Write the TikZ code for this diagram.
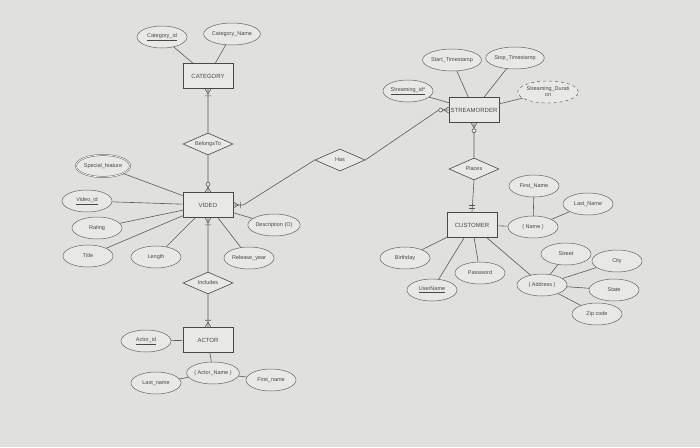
\documentclass[tikz,border=0pt]{standalone}
\usepackage{fontspec}
\setmainfont{Liberation Sans}
\usetikzlibrary{shapes.geometric,positioning}
\definecolor{paper}{RGB}{224,224,222}
\definecolor{sheet}{RGB}{232,232,231}
\definecolor{ink}{RGB}{72,72,72}
\tikzset{
    x=1pt, y=1pt,
    entity/.style={rectangle, draw=ink, fill=sheet, line width=.6pt,
        minimum width=50pt, minimum height=25pt, inner sep=1.5pt,
        font=\fontsize{6}{7}\selectfont, text=ink},
    attr/.style={ellipse, draw=ink!85, fill=sheet, line width=.5pt,
        minimum width=50pt, minimum height=22pt, inner sep=0pt,
        font=\fontsize{5.5}{6}\selectfont, text=ink, align=center},
    rel/.style={diamond, aspect=2.3, draw=ink, fill=sheet, line width=.6pt,
        minimum width=50pt, minimum height=22pt, inner sep=0pt,
        font=\fontsize{5.5}{6}\selectfont, text=ink},
    link/.style={draw=ink!90, line width=.6pt},
    pics/onemany/.style={code={\draw[link] (0,3) -- (5,0) -- (0,-3) (7,3) -- (7,-3);}},
    pics/zeromany/.style={code={\draw[link] (0,3) -- (5,0) -- (0,-3);
        \draw[link, fill=sheet] (8,0) circle (2);}},
    pics/oneone/.style={code={\draw[link] (4,3) -- (4,-3) (7,3) -- (7,-3);}}
}

\begin{document}
\begin{tikzpicture}
    \fill[paper] (0,-447) rectangle (700,0);
    \useasboundingbox (0,-447) rectangle (700,0);

    % video side
    \node[entity] (category) at (208,-76) {CATEGORY};
    \node[attr] (cat-id) at (162,-37) {\underline{Category\_id}};
    \node[attr] (cat-name) at (232,-34) {Category\_Name};
    \node[rel] (belongs) at (208,-144) {BelongsTo};
    \node[entity] (video) at (208,-205) {VIDEO};
    \node[attr, double, double distance=.7pt] (special) at (103,-166) {Special\_feature};
    \node[attr] (video-id) at (87,-201) {\underline{Video\_id}};
    \node[attr] (rating) at (97,-228) {Rating};
    \node[attr] (title) at (88,-256) {Title};
    \node[attr] (length) at (156,-257) {Length};
    \node[attr] (release) at (249,-258) {Release\_year};
    \node[attr] (descr) at (274,-225) {Description (O)};
    \node[rel] (includes) at (208,-283) {Includes};
    \node[entity] (actor) at (208,-340) {ACTOR};
    \node[attr] (actor-id) at (146,-341) {\underline{Actor\_id}};
    \node[attr] (actor-name) at (213,-373) {( Actor\_Name )};
    \node[attr] (last-name) at (156,-383) {Last\_name};
    \node[attr] (first-name) at (271,-380) {First\_name};
    \node[rel] (has) at (340,-160) {Has};

    % stream side
    \node[entity] (stream) at (474,-110) {STREAMORDER};
    \node[attr] (stream-id) at (408,-91) {\underline{Streaming\_id*}};
    \node[attr] (start) at (452,-60) {Start\_Timestamp};
    \node[attr] (stop) at (515,-58) {Stop\_Timestamp};
    \node[attr, dashed] (duration) at (548,-92) {Streaming\_Durati\\on};
    \node[rel] (places) at (474,-169) {Places};
    \node[entity] (customer) at (472,-225) {CUSTOMER};
    \node[attr] (name) at (533,-227) {( Name )};
    \node[attr] (c-first) at (534,-186) {First\_Name};
    \node[attr] (c-last) at (588,-204) {Last\_Name};
    \node[attr] (birthday) at (405,-258) {Birthday};
    \node[attr] (username) at (432,-290) {\underline{UserName}};
    \node[attr] (password) at (480,-273) {Password};
    \node[attr] (address) at (542,-285) {( Address )};
    \node[attr] (street) at (566,-254) {Street};
    \node[attr] (city) at (617,-261) {City};
    \node[attr] (state) at (614,-290) {State};
    \node[attr] (zip) at (597,-314) {Zip code};

    \path[link] (cat-id) -- (category) (cat-name) -- (category)
        (category.south) -- (belongs.north) (belongs.south) -- (video.north)
        (special) -- (video) (video-id) -- (video) (rating) -- (video)
        (title) -- (video) (length) -- (video) (release) -- (video)
        (descr) -- (video)
        (video.south) -- (includes.north) (includes.south) -- (actor.north)
        (actor-id) -- (actor) (actor) -- (actor-name)
        (actor-name) -- (last-name) (actor-name) -- (first-name)
        (video.east) -- ++(10,0) -- (has.west)
        (stream.west) -- ++(-10,0) -- (has.east)
        (stream-id) -- (stream) (start) -- (stream) (stop) -- (stream)
        (duration) -- (stream)
        (stream.south) -- (places.north) (places.south) -- (customer.north)
        (customer) -- (name) (name) -- (c-first) (name) -- (c-last)
        (customer) -- (birthday) (customer) -- (username)
        (customer) -- (password) (customer) -- (address)
        (address) -- (street) (address) -- (city) (address) -- (state)
        (address) -- (zip);

    \pic[rotate=-90] at (category.south) {onemany};
    \pic[rotate=90] at (video.north) {zeromany};
    \pic at (video.east) {onemany};
    \pic[rotate=-90] at (video.south) {onemany};
    \pic[rotate=90] at (actor.north) {onemany};
    \pic[rotate=180] at (stream.west) {zeromany};
    \pic[rotate=-90] at (stream.south) {zeromany};
    \pic[rotate=90] at (customer.north) {oneone};
\end{tikzpicture}
\end{document}
